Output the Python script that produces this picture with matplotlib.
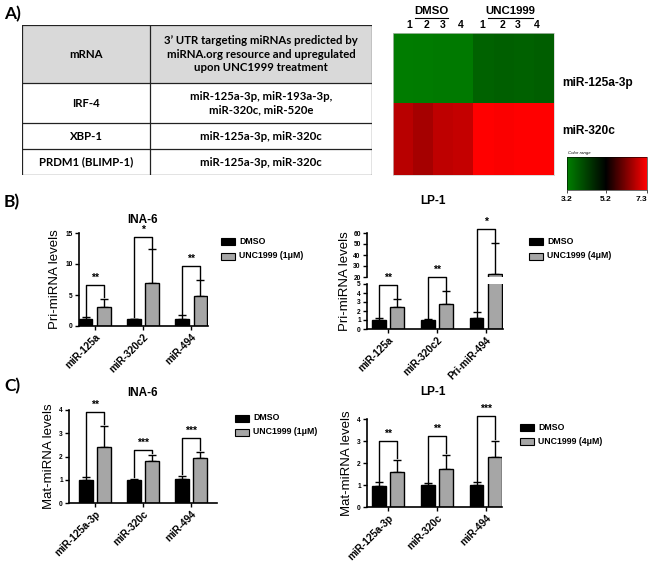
import numpy as np
import matplotlib
matplotlib.use("Agg")
import matplotlib.pyplot as plt
from matplotlib.colors import LinearSegmentedColormap, Normalize
from matplotlib.cm import ScalarMappable
from matplotlib.patches import Rectangle
from matplotlib.lines import Line2D

W, H = 650, 561
ARIAL = "Liberation Sans"
CALIBRI = "Lato"

# ---------------- data ----------------
table_header = ["mRNA",
                "3\u2019 UTR targeting miRNAs predicted by\nmiRNA.org resource and upregulated\nupon UNC1999 treatment"]
table_rows = [["IRF-4", "miR-125a-3p, miR-193a-3p,\nmiR-320c, miR-520e"],
              ["XBP-1", "miR-125a-3p, miR-320c"],
              ["PRDM1 (BLIMP-1)", "miR-125a-3p, miR-320c"]]

heat_rows = ["miR-125a-3p", "miR-320c"]
heat_groups = ["DMSO", "UNC1999"]
heat_reps = ["1", "2", "3", "4"]
heat_values = [[3.25, 3.28, 3.30, 3.30, 3.65, 3.70, 3.68, 3.72],
               [6.72, 6.56, 6.76, 6.81, 7.30, 7.26, 7.30, 7.30]]
color_ticks = [3.2, 5.2, 7.3]

# B) Pri-miRNA, INA-6
pri_ina6_labels = ["miR-125a", "miR-320c2", "miR-494"]
pri_ina6_dmso = [1.1, 1.1, 1.2]
pri_ina6_dmso_err = [0.3, 0.1, 0.5]
pri_ina6_unc = [3.1, 7.0, 4.8]
pri_ina6_unc_err = [1.3, 5.4, 2.6]
pri_ina6_stars = ["**", "*", "**"]
pri_ina6_bracket = [6.6, 14.4, 9.7]

# B) Pri-miRNA, LP-1 (broken axis)
pri_lp1_labels = ["miR-125a", "miR-320c2", "Pri-miR-494"]
pri_lp1_dmso = [1.0, 1.05, 1.2]
pri_lp1_dmso_err = [0.2, 0.05, 0.7]
pri_lp1_unc = [2.5, 2.8, 22.7]
pri_lp1_unc_err = [0.8, 1.4, 28.3]
pri_lp1_stars = ["**", "**", "*"]
pri_lp1_bracket = [4.9, 5.8, 63.5]

# C) Mat-miRNA, INA-6
mat_ina6_labels = ["miR-125a-3p", "miR-320c", "miR-494"]
mat_ina6_dmso = [1.0, 1.0, 1.05]
mat_ina6_dmso_err = [0.1, 0.05, 0.13]
mat_ina6_unc = [2.4, 1.8, 1.95]
mat_ina6_unc_err = [0.9, 0.25, 0.25]
mat_ina6_stars = ["**", "***", "***"]
mat_ina6_bracket = [3.9, 2.27, 2.8]

# C) Mat-miRNA, LP-1
mat_lp1_labels = ["miR-125a-3p", "miR-320c", "miR-494"]
mat_lp1_dmso = [0.95, 1.0, 1.0]
mat_lp1_dmso_err = [0.17, 0.07, 0.12]
mat_lp1_unc = [1.6, 1.75, 2.27]
mat_lp1_unc_err = [0.55, 0.63, 0.73]
mat_lp1_stars = ["**", "**", "***"]
mat_lp1_bracket = [3.02, 3.25, 4.15]

GRAY = "#a6a6a6"

fig = plt.figure(figsize=(6.5, 5.61), dpi=100)


def rect(x0, y0, x1, y1):
    return [x0 / W, 1 - y1 / H, (x1 - x0) / W, (y1 - y0) / H]


def ftext(x, y, s, **kw):
    kw.setdefault("ha", "center")
    kw.setdefault("va", "center")
    return fig.text(x / W, 1 - y / H, s, **kw)


# panel letters
ftext(4, 14, "A)", ha="left", family=CALIBRI, weight="bold", fontsize=12.5)
ftext(4, 202, "B)", ha="left", family=CALIBRI, weight="bold", fontsize=12.5)
ftext(4, 386, "C)", ha="left", family=CALIBRI, weight="bold", fontsize=12.5)

# ---------------- A) table ----------------
tab = fig.add_axes(rect(22, 25, 372, 175))
tab.set_xlim(22, 372)
tab.set_ylim(175, 25)
tab.axis("off")
row_edges = [25, 83, 123, 149, 175]
col_edges = [22, 150, 372]
tab.add_patch(Rectangle((22, 25), 350, 58, facecolor="#d9d9d9", edgecolor="none"))
for y in row_edges:
    tab.plot([22, 372], [y, y], color="#222222", lw=0.9)
for x in col_edges:
    tab.plot([x, x], [25, 175], color="#222222", lw=0.9)
for r, row in enumerate([table_header] + table_rows):
    yc = (row_edges[r] + row_edges[r + 1]) / 2
    for c, s in enumerate(row):
        xc = (col_edges[c] + col_edges[c + 1]) / 2
        tab.text(xc, yc, s, ha="center", va="center", family=CALIBRI,
                 weight="bold", fontsize=8.2, linespacing=1.25, color="black")

# ---------------- A) heatmap ----------------
cmap = LinearSegmentedColormap.from_list(
    "gkr", [(0.0, (0.0, 0.5, 0.0)), ((5.2 - 3.2) / (7.3 - 3.2), (0, 0, 0)), (1.0, (1, 0, 0))])
norm = Normalize(vmin=color_ticks[0], vmax=color_ticks[-1])
hm = fig.add_axes(rect(393, 33, 554, 175))
hm.imshow(heat_values, cmap=cmap, norm=norm, aspect="auto", interpolation="nearest")
hm.set_xticks([])
hm.set_yticks([])
for sp in hm.spines.values():
    sp.set_color("#cccccc")
    sp.set_linewidth(0.5)

for g, xc in zip(heat_groups, [431, 510]):
    ftext(xc, 11, g, family=ARIAL, weight="bold", fontsize=8.2)
for x0, x1 in [(415, 448), (488, 533)]:
    fig.add_artist(Line2D([x0 / W, x1 / W], [1 - 17.5 / H, 1 - 17.5 / H], color="black", lw=0.8))
for xc, s in zip([409, 427, 443, 461, 482, 502, 518, 537], heat_reps * 2):
    ftext(xc, 25, s, family=ARIAL, weight="bold", fontsize=7.5)
for yc, s in zip([83, 131], heat_rows):
    ftext(562, yc, s, ha="left", family=ARIAL, weight="bold", fontsize=8.6)

cax = fig.add_axes(rect(567, 157, 647, 190))
cb = fig.colorbar(ScalarMappable(norm=norm, cmap=cmap), cax=cax,
                  orientation="horizontal", ticks=color_ticks)
cb.outline.set_linewidth(0.4)
cax.tick_params(length=2, width=0.5, labelsize=6, pad=2)
for lab in cax.get_xticklabels():
    lab.set_family(ARIAL)
    lab.set_weight("bold")
cax.get_xticklabels()[-1].set_horizontalalignment("right")
ftext(568, 153, "Color range", ha="left", family=ARIAL, style="italic", fontsize=3.2)


# ---------------- helpers for bar panels ----------------
def style_axis(ax, yticks, bottom=True):
    ax.spines["top"].set_visible(False)
    ax.spines["right"].set_visible(False)
    ax.spines["left"].set_linewidth(1.2)
    ax.spines["bottom"].set_linewidth(1.2)
    ax.set_yticks(yticks)
    ax.tick_params(axis="y", direction="out", length=3, width=1, labelsize=4.8, pad=1.5)
    for lab in ax.get_yticklabels():
        lab.set_family(ARIAL)
        lab.set_weight("bold")
    if not bottom:
        ax.spines["bottom"].set_visible(False)
        ax.set_xticks([])


def draw_bars(ax, dmso, dmso_err, unc, unc_err, off, width):
    x = np.arange(len(dmso))
    ax.bar(x - off, dmso, width, color="black", edgecolor="black", lw=1, zorder=2)
    ax.bar(x + off, unc, width, color=GRAY, edgecolor="black", lw=1, zorder=2)
    z = np.zeros(len(dmso))
    ax.errorbar(x - off, dmso, yerr=[z, dmso_err], fmt="none", ecolor="black",
                elinewidth=1, capsize=3, capthick=1, zorder=1)
    ax.errorbar(x + off, unc, yerr=[z, unc_err], fmt="none", ecolor="black",
                elinewidth=1, capsize=3, capthick=1, zorder=1)


def set_xlabels(ax, labels):
    ax.set_xticks(np.arange(len(labels)))
    ax.set_xticklabels(labels, rotation=45, ha="right", rotation_mode="anchor",
                       family=ARIAL, weight="bold", fontsize=7.2)
    ax.tick_params(axis="x", direction="out", length=3, width=1, pad=1.5)


def fig_xy(ax, x, y):
    p = ax.transData.transform((x, y))
    return fig.transFigure.inverted().transform(p)


def brackets(axmap, dmso, dmso_err, unc, unc_err, tops, stars, off, pad):
    for i in range(len(dmso)):
        x1, x2 = i - off, i + off
        y1 = dmso[i] + dmso_err[i] + pad
        y2 = min(unc[i] + unc_err[i] + pad, tops[i])
        pts = [fig_xy(axmap(y1), x1, y1), fig_xy(axmap(tops[i]), x1, tops[i]),
               fig_xy(axmap(tops[i]), x2, tops[i]), fig_xy(axmap(y2), x2, y2)]
        fig.add_artist(Line2D([p[0] for p in pts], [p[1] for p in pts],
                              color="black", lw=1, transform=fig.transFigure))
        m = fig_xy(axmap(tops[i]), i, tops[i])
        fig.text(m[0], m[1] + 2 / H, stars[i], ha="center", va="bottom",
                 family=ARIAL, weight="bold", fontsize=7.5)


def legend(xsq, y1, y2, label2):
    for y, fc, s in [(y1, "black", "DMSO"), (y2, GRAY, label2)]:
        fig.add_artist(Rectangle((xsq / W, 1 - (y + 3.5) / H), 14 / W, 7 / H,
                                 facecolor=fc, edgecolor="black", lw=0.8,
                                 transform=fig.transFigure))
        ftext(xsq + 18, y, s, ha="left", family=ARIAL, weight="bold", fontsize=6.3)


OFF, WID = 0.19, 0.28
YLAB = dict(family=ARIAL, fontsize=9.5)

# ---------------- B) INA-6 ----------------
ax = fig.add_axes(rect(79, 233, 208, 326))
draw_bars(ax, pri_ina6_dmso, pri_ina6_dmso_err, pri_ina6_unc, pri_ina6_unc_err, OFF, WID)
ax.set_ylim(0, 15)
ax.set_xlim(-0.33, 2.35)
style_axis(ax, [0, 5, 10, 15])
set_xlabels(ax, pri_ina6_labels)
ax.set_ylabel("Pri-miRNA levels", labelpad=3, **YLAB)
ftext(143, 220, "INA-6", family=ARIAL, weight="bold", fontsize=8.5)
brackets(lambda v: ax, pri_ina6_dmso, pri_ina6_dmso_err, pri_ina6_unc, pri_ina6_unc_err,
         pri_ina6_bracket, pri_ina6_stars, OFF, 0.2)
legend(221, 241, 256, "UNC1999 (1\u03bcM)")

# ---------------- B) LP-1 (broken axis) ----------------
lo = fig.add_axes(rect(367, 284, 503, 329))
hi = fig.add_axes(rect(367, 233, 503, 277))
for a in (lo, hi):
    draw_bars(a, pri_lp1_dmso, pri_lp1_dmso_err, pri_lp1_unc, pri_lp1_unc_err, OFF, WID)
    a.set_xlim(-0.43, 2.35)
lo.set_ylim(0, 5)
hi.set_ylim(20, 60)
style_axis(lo, [0, 1, 2, 3, 4, 5])
style_axis(hi, [20, 30, 40, 50, 60], bottom=False)
set_xlabels(lo, pri_lp1_labels)
fig.text(345 / W, 1 - 281 / H, "Pri-miRNA levels", rotation=90, ha="center", va="center", **YLAB)
ftext(433, 201, "LP-1", family=ARIAL, weight="bold", fontsize=8.5)
brackets(lambda v: lo if v < 10 else hi, pri_lp1_dmso, pri_lp1_dmso_err, pri_lp1_unc,
         pri_lp1_unc_err, pri_lp1_bracket, pri_lp1_stars, OFF, 0.15)
legend(529, 241, 256, "UNC1999 (4\u03bcM)")

# ---------------- C) INA-6 ----------------
ax = fig.add_axes(rect(69, 410, 217, 503))
draw_bars(ax, mat_ina6_dmso, mat_ina6_dmso_err, mat_ina6_unc, mat_ina6_unc_err, OFF, WID)
ax.set_ylim(0, 4)
ax.set_xlim(-0.54, 2.54)
style_axis(ax, [0, 1, 2, 3, 4])
set_xlabels(ax, mat_ina6_labels)
ax.set_ylabel("Mat-miRNA levels", labelpad=3, **YLAB)
ftext(143, 393, "INA-6", family=ARIAL, weight="bold", fontsize=8.5)
brackets(lambda v: ax, mat_ina6_dmso, mat_ina6_dmso_err, mat_ina6_unc, mat_ina6_unc_err,
         mat_ina6_bracket, mat_ina6_stars, OFF, 0.08)
legend(235, 418, 432, "UNC1999 (1\u03bcM)")

# ---------------- C) LP-1 ----------------
ax = fig.add_axes(rect(367, 419, 502, 507))
draw_bars(ax, mat_lp1_dmso, mat_lp1_dmso_err, mat_lp1_unc, mat_lp1_unc_err, OFF, WID)
ax.set_ylim(0, 4)
ax.set_xlim(-0.43, 2.33)
style_axis(ax, [0, 1, 2, 3, 4])
set_xlabels(ax, mat_lp1_labels)
ax.set_ylabel("Mat-miRNA levels", labelpad=3, **YLAB)
ftext(433, 392, "LP-1", family=ARIAL, weight="bold", fontsize=8.5)
brackets(lambda v: ax, mat_lp1_dmso, mat_lp1_dmso_err, mat_lp1_unc, mat_lp1_unc_err,
         mat_lp1_bracket, mat_lp1_stars, OFF, 0.08)
legend(520, 427, 441, "UNC1999 (4\u03bcM)")

fig.savefig("out.png", dpi=100)
